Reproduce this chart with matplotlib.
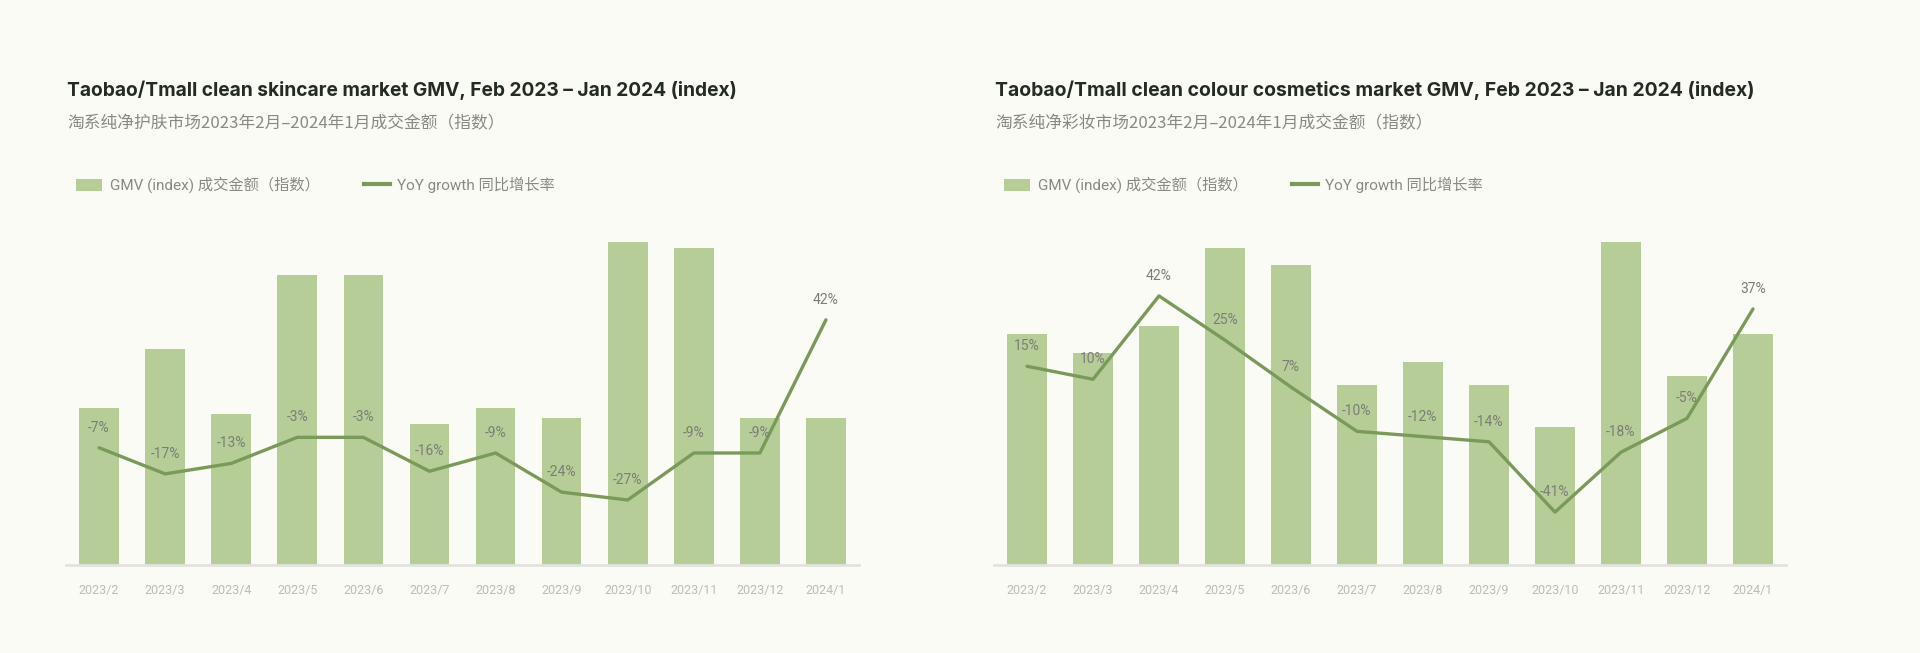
import matplotlib
matplotlib.use("Agg")
import matplotlib.pyplot as plt
from matplotlib.patches import Patch
from matplotlib.lines import Line2D

months = ["2023/2", "2023/3", "2023/4", "2023/5", "2023/6", "2023/7",
          "2023/8", "2023/9", "2023/10", "2023/11", "2023/12", "2024/1"]

skin_gmv = [157, 216, 151, 290, 290, 141, 157, 147, 323, 317, 147, 147]
skin_yoy = [-7, -17, -13, -3, -3, -16, -9, -24, -27, -9, -9, 42]

colour_gmv = [231, 212, 239, 317, 300, 180, 203, 180, 138, 323, 189, 231]
colour_yoy = [15, 10, 42, 25, 7, -10, -12, -14, -41, -18, -5, 37]

title_skin = "Taobao/Tmall clean skincare market GMV, Feb 2023 – Jan 2024 (index)"
sub_skin = "淘系纯净护肤市场2023年2月–2024年1月成交金额（指数）"
title_colour = "Taobao/Tmall clean colour cosmetics market GMV, Feb 2023 – Jan 2024 (index)"
sub_colour = "淘系纯净彩妆市场2023年2月–2024年1月成交金额（指数）"
leg_bar = "GMV (index) 成交金额（指数）"
leg_line = "YoY growth 同比增长率"

BG = "#fbfbf6"
BAR = "#b6cd98"
LINE = "#7a9a5a"
TITLE_C = "#242c1f"
SUB_C = "#8a8a84"
LAB_C = "#7c7e76"
TICK_C = "#bdbdb5"

FAM = ["Roboto", "Noto Sans CJK SC", "DejaVu Sans"]
CJK = ["Noto Sans CJK SC", "DejaVu Sans"]

W, H = 1920, 653
fig = plt.figure(figsize=(W / 100, H / 100), dpi=100, facecolor=BG)
renderer = fig.canvas.get_renderer()


def fit_text(x, y, s, width_px, size, **kw):
    t = fig.text(x / W, 1 - y / H, s, fontsize=size, va="center", ha="left", **kw)
    bb = t.get_window_extent(renderer=renderer)
    t.set_fontsize(size * width_px / bb.width)
    return t


panels = [
    (66, 859, skin_gmv, skin_yoy, (-51.9, 76.4), title_skin, 672, sub_skin, 438),
    (994, 1786, colour_gmv, colour_yoy, (-61.3, 67.3), title_colour, 760, sub_colour, 438),
]

top_px, bot_px = 230, 565
LEG_FS = 11.0
for (x0, x1, gmv, yoy, ylim2, title, tw, sub, sw) in panels:
    ax = fig.add_axes([x0 / W, (H - bot_px) / H, (x1 - x0) / W, (bot_px - top_px) / H])
    ax.set_facecolor("none")
    xs = list(range(len(months)))
    ax.bar(xs, gmv, width=0.6, color=BAR, zorder=2)
    ax.set_xlim(-0.5, len(months) - 0.5)
    ax.set_ylim(0, 335)
    for sp in ["top", "right", "left"]:
        ax.spines[sp].set_visible(False)
    ax.spines["bottom"].set_color("#e3e3de")
    ax.spines["bottom"].set_linewidth(2)
    ax.set_yticks([])
    ax.set_xticks(xs)
    ax.set_xticklabels(months, color=TICK_C, fontsize=9, family=FAM)
    ax.tick_params(axis="x", length=0, pad=14)

    ax2 = ax.twinx()
    ax2.set_ylim(*ylim2)
    ax2.plot(xs, yoy, color=LINE, lw=2.4, zorder=3, solid_capstyle="round",
             solid_joinstyle="round")
    for sp in ax2.spines.values():
        sp.set_visible(False)
    ax2.set_yticks([])
    for xi, v in zip(xs, yoy):
        ax2.annotate(f"{v}%", (xi, v), xytext=(0, 20), textcoords="offset pixels",
                     ha="center", va="center", fontsize=10, color=LAB_C,
                     family=FAM)

    fit_text(x0 + 1, 90, title, tw, 14, color=TITLE_C, fontweight="bold",
             family=["Inter", "Roboto", "DejaVu Sans"])
    fit_text(x0 + 1, 124, sub, sw, 10.5, color=SUB_C, family=CJK)

    handles = [Patch(facecolor=BAR, edgecolor="none", label=leg_bar),
               Line2D([0], [0], color=LINE, lw=3, label=leg_line)]
    fs_px = LEG_FS * 100 / 72
    ax.legend(handles=handles, ncol=2, loc="center left",
              bbox_to_anchor=((10 - 0.4 * fs_px) / (x1 - x0), (bot_px - 185) / (bot_px - top_px)),
              frameon=False, prop={"family": FAM, "size": LEG_FS}, labelcolor=SUB_C,
              handlelength=26 / fs_px, handleheight=13 / fs_px, handletextpad=0.5,
              columnspacing=2.9, borderaxespad=0)

fig.savefig("out.png", dpi=100, facecolor=BG)
